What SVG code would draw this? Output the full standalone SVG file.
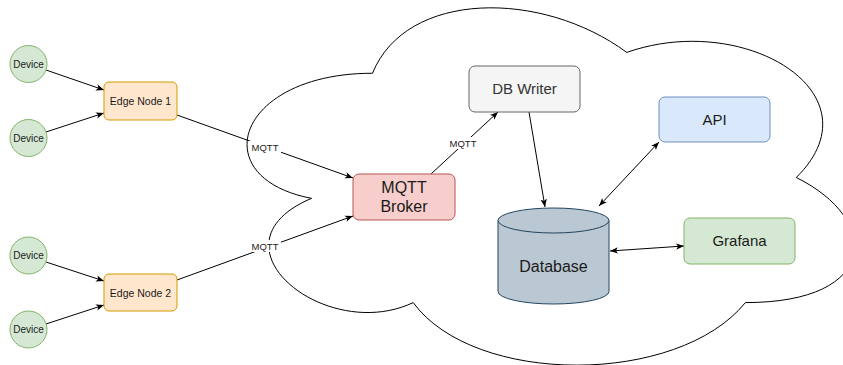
<svg xmlns="http://www.w3.org/2000/svg" width="843" height="365" viewBox="0 0 843 365">
  <style>
    text { font-family: "Liberation Sans", Arial, sans-serif; fill: #1a1a1a; text-anchor: middle; dominant-baseline: central; }
    .device circle { fill: #d5e8d4; stroke: #82b366; stroke-width: 1; }
    .device text { font-size: 10px; }
    .edge rect { fill: #ffe6cc; stroke: #d79b00; stroke-width: 1; }
    .edge text { font-size: 10.5px; }
    .broker rect { fill: #f8cecc; stroke: #b85450; }
    .writer rect { fill: #f5f5f5; stroke: #666666; }
    .writer text { fill: #333333; }
    .api rect { fill: #dae8fc; stroke: #6c8ebf; }
    .grafana rect { fill: #d5e8d4; stroke: #82b366; }
    .db path { fill: #bac8d3; stroke: #23445d; }
    .big { font-size: 15px; }
    .bigger { font-size: 16px; }
    .link { stroke: #000; stroke-width: 1; fill: none; }
    .lbl rect { fill: #fff; }
    .lbl text { font-size: 9.5px; fill: #1a1a1a; }
    .cloud { fill: #fff; stroke: #000; stroke-width: 1; }
  </style>
  <defs>
    <marker id="arrow" viewBox="0 0 10 10" refX="10" refY="5" markerWidth="8" markerHeight="8" markerUnits="userSpaceOnUse" orient="auto-start-reverse">
      <path d="M0,1 L10,5 L0,9 L2.5,5 Z" fill="#000"/>
    </marker>
  </defs>

  <rect width="843" height="365" fill="#fff"/>

  <!-- cloud boundary -->
  <path class="cloud" d="M372.5,73.25 C236.9,73.25 203,177.5 311.5,198.35 C203,244.2 325,344.3 413.2,302.6 C474.2,386 677.6,386 745.4,302.6 C881,302.6 881,219.2 796.25,177.5 C881,94.1 745.4,10.7 626.75,52.4 C542,-10.15 406.4,-10.15 372.5,73.25 Z"/>

  <!-- connectors -->
  <g id="connectors">
    <line class="link" x1="46" y1="70" x2="104" y2="90" marker-end="url(#arrow)"/>
    <line class="link" x1="46" y1="132" x2="104" y2="113" marker-end="url(#arrow)"/>
    <line class="link" x1="46" y1="262" x2="104" y2="281" marker-end="url(#arrow)"/>
    <line class="link" x1="46" y1="324" x2="104" y2="305" marker-end="url(#arrow)"/>
    <line class="link" x1="177" y1="115" x2="353" y2="178" marker-end="url(#arrow)"/>
    <line class="link" x1="177" y1="280" x2="353" y2="216" marker-end="url(#arrow)"/>
    <line class="link" x1="431" y1="174" x2="498" y2="112" marker-end="url(#arrow)"/>
    <line class="link" x1="529" y1="112" x2="545" y2="207" marker-end="url(#arrow)"/>
    <line class="link" x1="599" y1="206" x2="659" y2="142" marker-start="url(#arrow)" marker-end="url(#arrow)"/>
    <line class="link" x1="610" y1="251" x2="684" y2="246" marker-start="url(#arrow)" marker-end="url(#arrow)"/>
    <g class="lbl">
      <rect x="249" y="141" width="32" height="12"/>
      <text x="265" y="147">MQTT</text>
      <rect x="249" y="240" width="32" height="12"/>
      <text x="265" y="246">MQTT</text>
      <rect x="447" y="137" width="32" height="12"/>
      <text x="463" y="143">MQTT</text>
    </g>
  </g>

  <g id="device1" class="device">
    <circle cx="28.5" cy="64" r="18.5"/>
    <text x="28.5" y="64">Device</text>
  </g>
  <g id="device2" class="device">
    <circle cx="28.5" cy="138" r="18.5"/>
    <text x="28.5" y="138">Device</text>
  </g>
  <g id="device3" class="device">
    <circle cx="28.5" cy="255.5" r="18.5"/>
    <text x="28.5" y="255.5">Device</text>
  </g>
  <g id="device4" class="device">
    <circle cx="28.5" cy="329.5" r="18.5"/>
    <text x="28.5" y="329.5">Device</text>
  </g>

  <g id="edge-node-1" class="edge">
    <rect x="104" y="82" width="73" height="38" rx="5"/>
    <text x="140.5" y="101">Edge Node 1</text>
  </g>
  <g id="edge-node-2" class="edge">
    <rect x="104" y="274" width="73" height="37" rx="5"/>
    <text x="140.5" y="292.5">Edge Node 2</text>
  </g>

  <g id="mqtt-broker" class="broker">
    <rect x="353" y="174" width="102" height="46" rx="6"/>
    <text class="bigger" x="404" y="187">MQTT</text>
    <text class="bigger" x="404" y="206">Broker</text>
  </g>

  <g id="db-writer" class="writer">
    <rect x="469" y="66" width="111" height="46" rx="6"/>
    <text class="big" x="524.5" y="88.5">DB Writer</text>
  </g>

  <g id="database" class="db">
    <path d="M498,220.5 A55.5,12.5 0 0 1 609,220.5 V291.5 A55.5,12.5 0 0 1 498,291.5 Z"/>
    <path d="M498,220.5 A55.5,12.5 0 0 0 609,220.5" fill="none"/>
    <text class="bigger" x="553.5" y="266.5">Database</text>
  </g>

  <g id="api" class="api">
    <rect x="659" y="97" width="111" height="45" rx="6"/>
    <text class="big" x="714.5" y="119">API</text>
  </g>

  <g id="grafana" class="grafana">
    <rect x="684" y="218" width="111" height="46" rx="6"/>
    <text class="big" x="739.5" y="240.5">Grafana</text>
  </g>
</svg>
